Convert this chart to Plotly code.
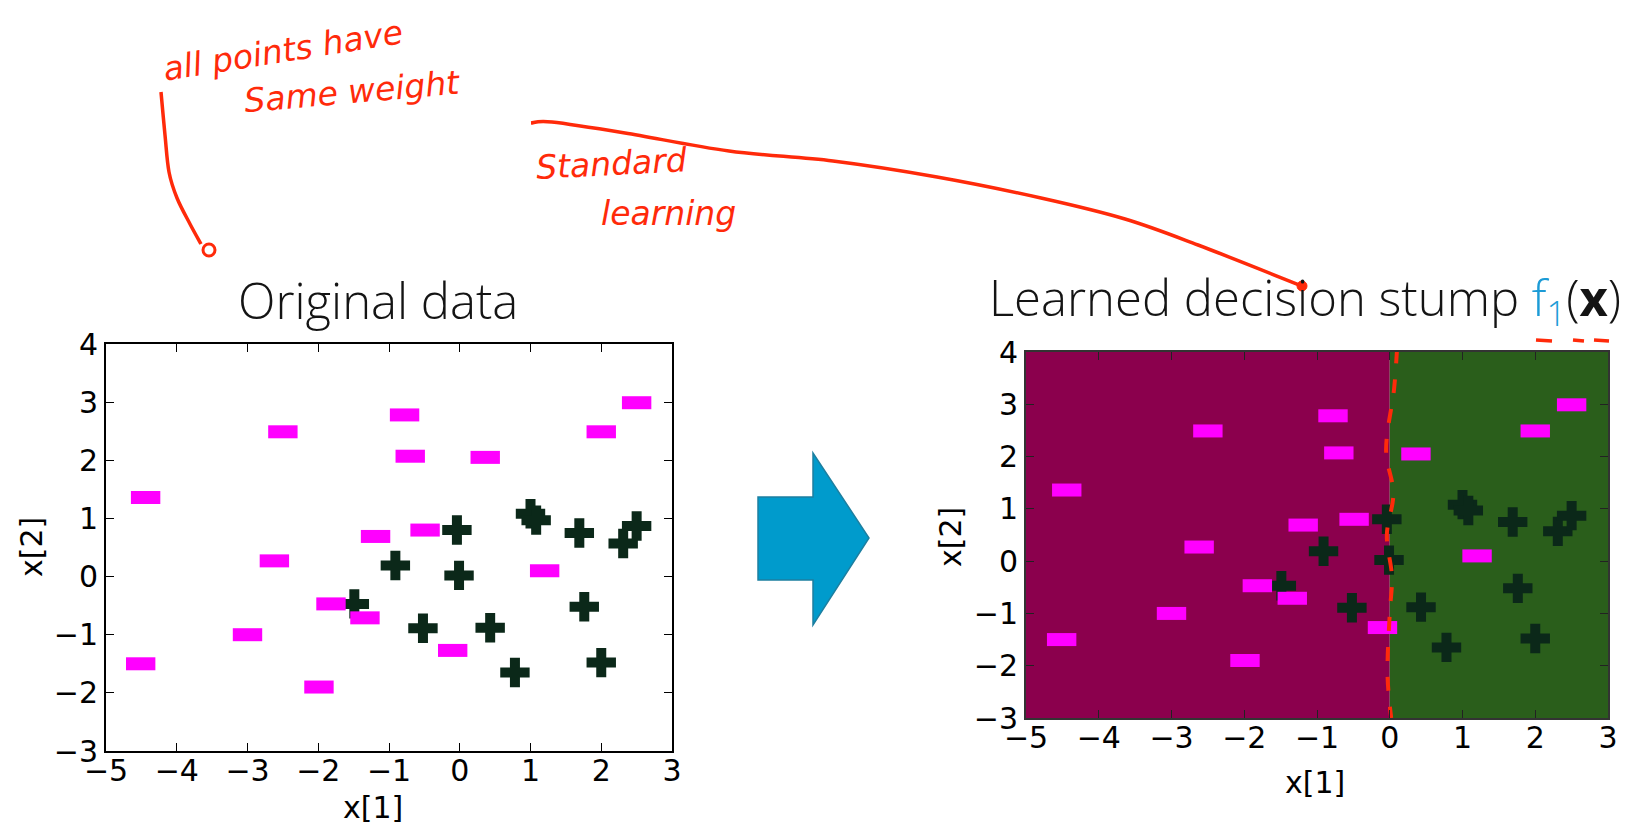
import plotly.graph_objects as go

W, H = 1633, 829
PAGE_MARGIN = 8  # body margin of the html page

# Data
plus_x = [-0.04, -0.91, -0.01, -1.49, -0.52, 0.43, 0.78, 1.00, 1.08, 1.69, 1.76, 2.00, 2.31, 2.50]
plus_y = [0.80, 0.19, 0.02, -0.47, -0.89, -0.88, -1.65, 1.08, 0.97, 0.75, -0.52, -1.48, 0.57, 0.87]

minus_x = [-4.44, -4.51, -2.50, -2.62, -3.00, -1.99, -1.82, -1.34, -1.19, -0.78, -0.70,
           -0.49, -0.10, 0.36, 1.20, 2.00, 2.50]
minus_y = [1.36, -1.50, 2.49, 0.27, -1.00, -1.90, -0.47, -0.71, 0.69, 2.78, 2.07,
           0.80, -1.27, 2.05, 0.10, 2.49, 2.99]

x_range = [-5, 3]
y_range = [-3, 4]
stump_threshold = 0.0

# hand drawn ink (pixel positions on the slide)
ink_weight_curve = [(161, 92), (165, 135), (169, 172), (177, 198), (190, 224), (201, 244)]
ink_learning_curve = [(531, 123), (552, 122), (625, 133), (729, 151), (833, 161), (937, 177),
                      (1041, 198), (1125, 219), (1198, 245), (1302, 286)]
ink_stump_x = [0.10, 0.06, -0.05, 0.05, -0.04, 0.03, 0.00, -0.03, 0.02]
ink_stump_y = [4.05, 3.30, 2.10, 1.30, 0.50, -0.30, -1.00, -2.20, -3.00]

RED = "#ff2a0a"
PLUS_C = "#0b2819"
MINUS_C = "#ff00ff"
LEFT_C = "#8b004d"
RIGHT_C = "#2a5e1b"


def px(x):
    return (x - PAGE_MARGIN) / W


def py(y):
    return 1 - (y - PAGE_MARGIN) / H


def smooth_path(pts):
    # catmull-rom -> cubic bezier, in paper coords
    p = [(px(a), py(b)) for a, b in pts]
    d = "M %.5f,%.5f" % p[0]
    for i in range(len(p) - 1):
        p0 = p[i - 1] if i > 0 else p[i]
        p1, p2 = p[i], p[i + 1]
        p3 = p[i + 2] if i + 2 < len(p) else p2
        c1 = (p1[0] + (p2[0] - p0[0]) / 6, p1[1] + (p2[1] - p0[1]) / 6)
        c2 = (p2[0] - (p3[0] - p1[0]) / 6, p2[1] - (p3[1] - p1[1]) / 6)
        d += " C %.5f,%.5f %.5f,%.5f %.5f,%.5f" % (c1 + c2 + p2)
    return d


fig = go.Figure()

for xa, ya in [("x", "y"), ("x2", "y2")]:
    fig.add_trace(go.Scatter(
        x=plus_x, y=plus_y, xaxis=xa, yaxis=ya, mode="markers",
        marker=dict(symbol="cross-thin", size=21, line=dict(color=PLUS_C, width=10)),
        showlegend=False, hoverinfo="x+y"
    ))
    fig.add_trace(go.Scatter(
        x=minus_x, y=minus_y, xaxis=xa, yaxis=ya, mode="markers",
        marker=dict(symbol="line-ew", size=21, line=dict(color=MINUS_C, width=13)),
        showlegend=False, hoverinfo="x+y"
    ))

# red dashed ink over the stump boundary
fig.add_trace(go.Scatter(
    x=ink_stump_x, y=ink_stump_y, xaxis="x2", yaxis="y2", mode="lines",
    line=dict(color=RED, width=4, dash="14px,16px", shape="spline"),
    showlegend=False, hoverinfo="skip", cliponaxis=False
))

axis_common = dict(
    showgrid=False, zeroline=False, showline=True, linewidth=2,
    ticks="inside", ticklen=8, tickwidth=1, mirror="ticks", automargin=False,
    tickfont=dict(family="DejaVu Sans", size=30, color="black"),
    dtick=1,
)

fig.update_layout(
    width=W, height=H,
    margin=dict(l=0, r=0, t=0, b=0),
    paper_bgcolor="white", plot_bgcolor="white",
    xaxis=dict(axis_common, domain=[px(106), px(672)], range=x_range, anchor="y",
               linecolor="black", tickcolor="black", ticklabelstandoff=-8),
    yaxis=dict(axis_common, domain=[py(751), py(344)], range=y_range, anchor="x",
               linecolor="black", tickcolor="black"),
    xaxis2=dict(axis_common, domain=[px(1026), px(1608)], range=x_range, anchor="y2",
                linecolor="#333333", tickcolor="#222222", ticklabelstandoff=-8),
    yaxis2=dict(axis_common, domain=[py(718), py(352)], range=y_range, anchor="x2",
                linecolor="#333333", tickcolor="#222222"),
)

# decision regions of the stump
fig.add_shape(type="rect", xref="x2", yref="y2", x0=x_range[0], x1=stump_threshold,
              y0=y_range[0], y1=y_range[1], fillcolor=LEFT_C, line_width=0, layer="below")
fig.add_shape(type="rect", xref="x2", yref="y2", x0=stump_threshold, x1=x_range[1],
              y0=y_range[0], y1=y_range[1], fillcolor=RIGHT_C, line_width=0, layer="below")

# blue block arrow between the plots
arrow = [(758, 497), (813, 497), (813, 453), (869, 538), (813, 625), (813, 580), (758, 580)]
arrow_path = "M " + " L ".join("%.5f,%.5f" % (px(a), py(b)) for a, b in arrow) + " Z"
fig.add_shape(type="path", xref="paper", yref="paper", path=arrow_path,
              fillcolor="#009bcc", line=dict(color="#1d7fa0", width=1.5))

# ink curves
fig.add_shape(type="path", xref="paper", yref="paper", path=smooth_path(ink_weight_curve),
              line=dict(color=RED, width=3.5))
fig.add_shape(type="circle", xref="paper", yref="paper",
              x0=px(203), x1=px(215), y0=py(256), y1=py(244), line=dict(color=RED, width=3))
fig.add_shape(type="path", xref="paper", yref="paper", path=smooth_path(ink_learning_curve),
              line=dict(color=RED, width=3.5))
fig.add_shape(type="circle", xref="paper", yref="paper",
              x0=px(1297), x1=px(1307), y0=py(291), y1=py(281), fillcolor=RED,
              line=dict(color=RED, width=1))
for x0, x1 in [(1536, 1552), (1573, 1584), (1594, 1609)]:
    fig.add_shape(type="line", xref="paper", yref="paper", x0=px(x0), x1=px(x1),
                  y0=py(340), y1=py(341), line=dict(color=RED, width=3.5))


def note(x, y, text, font, angle=0):
    fig.add_annotation(x=px(x), y=py(y), xref="paper", yref="paper", showarrow=False,
                       xanchor="center", yanchor="middle", text=text, textangle=angle,
                       font=font)


title_font = dict(family="Open Sans", size=49, color="#141414", weight=300)
note(378, 300, "Original data", title_font)
note(1305, 300, "Learned decision stump <span style='color:#1c9bd6'>f<sub>1</sub></span>(<b>x</b>)",
     title_font)

label_font = dict(family="DejaVu Sans", size=30, color="black")
note(373, 807, "x[1]", label_font)
note(31, 547, "x[2]", label_font, -90)
note(1315, 782, "x[1]", label_font)
note(950, 537, "x[2]", label_font, -90)

ink_font = dict(family="DejaVu Sans", size=33, color=RED, style="italic")
note(283, 50, "all points have", ink_font, -9)
note(352, 92, "Same weight", ink_font, -5)
note(612, 163, "Standard", ink_font, -3)
note(668, 213, "learning", ink_font)

fig.write_html("out.html")
